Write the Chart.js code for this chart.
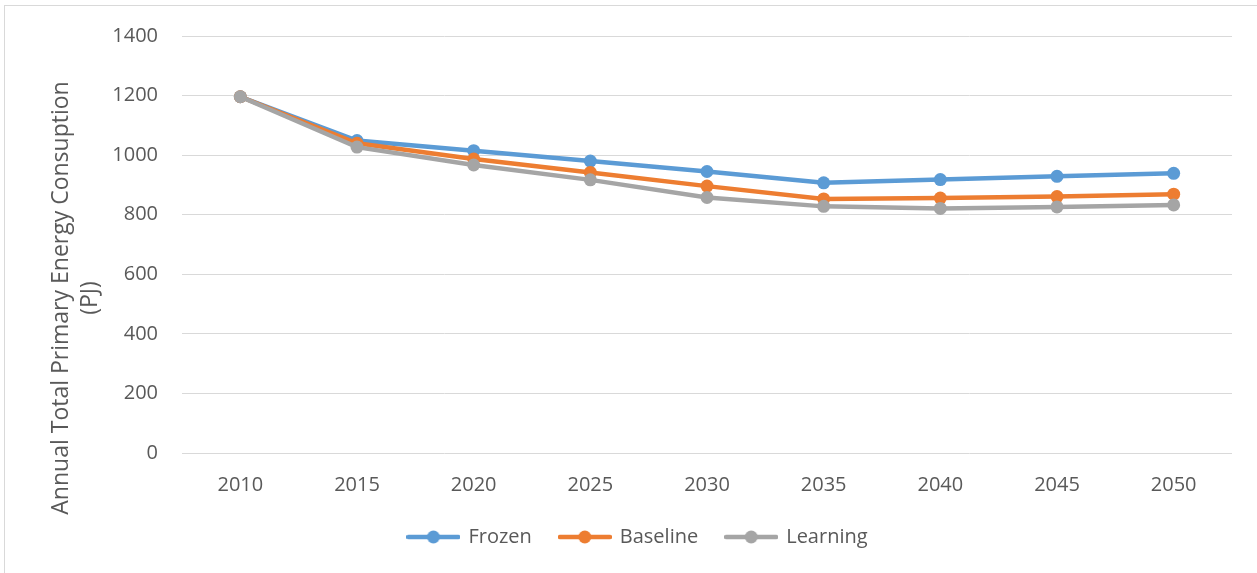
<!DOCTYPE html>
<html>
<head>
<meta charset="utf-8">
<script src="https://cdn.jsdelivr.net/npm/chart.js@4"></script>
<style>
  html, body { margin: 0; padding: 0; background: #fff; }
  #wrap { width: 1257px; height: 573px; position: relative; }
</style>
</head>
<body>
<div id="wrap"><canvas id="chart"></canvas></div>
<script>
const YEARS = ['2010', '2015', '2020', '2025', '2030', '2035', '2040', '2045', '2050']
const FROZEN = [1196, 1049, 1015, 980, 945, 907, 918, 929, 939]
const BASELINE = [1196, 1040, 987, 942, 896, 853, 856, 861, 869]
const LEARNING = [1196, 1027, 967, 917, 858, 828, 821, 826, 833]
const Y_TITLE = ['Annual Total Primary Energy Consuption', '(PJ)']

const TEXT = '#595959'
const FONT = '"Open Sans", sans-serif'
const COLORS = ['#5B9BD5', '#ED7D31', '#A5A5A5']

// little line + dot used as legend marker
function legendMark(color) {
    const c = document.createElement('canvas')
    c.width = 54
    c.height = 14
    const g = c.getContext('2d')
    g.strokeStyle = color
    g.lineWidth = 4.5
    g.lineCap = 'round'
    g.beginPath()
    g.moveTo(2, 7)
    g.lineTo(52, 7)
    g.stroke()
    g.fillStyle = color
    g.beginPath()
    g.arc(27, 7, 6.5, 0, Math.PI * 2)
    g.fill()
    return c
}
const MARKS = COLORS.map(legendMark)

const framePlugin = {
    id: 'frame',
    beforeDraw(chart) {
        const ctx = chart.ctx
        ctx.save()
        ctx.strokeStyle = '#d9d9d9'
        ctx.lineWidth = 1
        ctx.strokeRect(4.5, 5.5, 1300, 700)
        ctx.restore()
    }
}

const yTitlePlugin = {
    id: 'yTitle',
    afterDraw(chart) {
        const ctx = chart.ctx
        ctx.save()
        ctx.fillStyle = TEXT
        ctx.font = '23px ' + FONT
        ctx.textAlign = 'center'
        ctx.textBaseline = 'middle'
        ctx.translate(61, 298)
        ctx.rotate(-Math.PI / 2)
        ctx.fillText(Y_TITLE[0], 0, 0)
        ctx.fillText(Y_TITLE[1], 0, 29)
        ctx.restore()
    }
}

function makeSet(label, data, i) {
    return {
        label: label,
        data: data,
        borderColor: COLORS[i],
        backgroundColor: COLORS[i],
        pointBackgroundColor: COLORS[i],
        pointBorderColor: COLORS[i],
        borderWidth: 4.5,
        pointRadius: 6.5,
        pointHoverRadius: 6.5,
        pointBorderWidth: 0,
        tension: 0,
        order: 3 - i
    }
}

new Chart(document.getElementById('chart'), {
    type: 'line',
    data: {
        labels: YEARS,
        datasets: [
            makeSet('Frozen', FROZEN, 0),
            makeSet('Baseline', BASELINE, 1),
            makeSet('Learning', LEARNING, 2)
        ]
    },
    options: {
        responsive: true,
        maintainAspectRatio: false,
        animation: false,
        layout: { padding: { left: 44, right: 25, top: 36, bottom: 16 } },
        plugins: {
            tooltip: { enabled: false },
            legend: {
                position: 'bottom',
                labels: {
                    color: TEXT,
                    font: { family: FONT, size: 20 },
                    usePointStyle: true,
                    pointStyleWidth: 50,
                    padding: 28,
                    sort: (a, b) => a.datasetIndex - b.datasetIndex,
                    generateLabels(chart) {
                        const items = Chart.defaults.plugins.legend.labels.generateLabels(chart)
                        items.forEach(it => { it.pointStyle = MARKS[it.datasetIndex] })
                        return items
                    }
                }
            }
        },
        scales: {
            x: {
                offset: true,
                grid: { display: false, drawTicks: false },
                border: { display: false },
                ticks: { color: TEXT, font: { family: FONT, size: 20 }, padding: 20 },
                afterFit: s => { s.height = 46 }
            },
            y: {
                min: 0,
                max: 1400,
                grid: { color: '#d9d9d9', lineWidth: 1, drawTicks: false },
                border: { display: false },
                ticks: {
                    stepSize: 200,
                    color: TEXT,
                    font: { family: FONT, size: 20 },
                    padding: 24,
                    callback: v => String(v)
                },
                afterFit: s => { s.width = 138 }
            }
        }
    },
    plugins: [framePlugin, yTitlePlugin]
})
</script>
</body>
</html>
